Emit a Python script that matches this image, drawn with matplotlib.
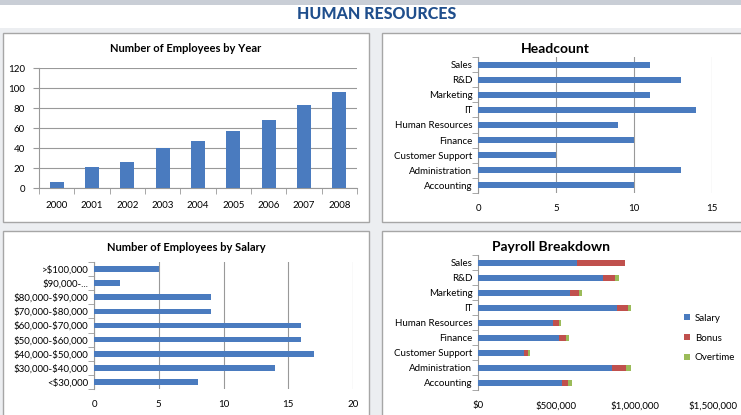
import matplotlib
matplotlib.use('Agg')
import matplotlib.pyplot as plt
from matplotlib.patches import Rectangle
from matplotlib.ticker import FuncFormatter, FixedLocator
import numpy as np

plt.rcParams['font.family'] = ['Lato', 'DejaVu Sans']
plt.rcParams['text.parse_math'] = False

# data
years = ['2000', '2001', '2002', '2003', '2004', '2005', '2006', '2007', '2008']
emp_by_year = [6, 21, 26, 40, 47, 57, 68, 83, 96]

depts = ['Accounting', 'Administration', 'Customer Support', 'Finance',
         'Human Resources', 'IT', 'Marketing', 'R&D', 'Sales']
headcount = [10, 13, 5, 10, 9, 14, 11, 13, 11]

salary_bands = ['<$30,000', '$30,000-$40,000', '$40,000-$50,000', '$50,000-$60,000',
                '$60,000-$70,000', '$70,000-$80,000', '$80,000-$90,000', '$90,000-...',
                '>$100,000']
emp_by_salary = [8, 14, 17, 16, 16, 9, 9, 2, 5]

pay_salary = [536000, 855000, 296000, 517000, 477000, 887000, 589000, 796000, 632000]
pay_bonus = [36000, 88000, 25000, 43000, 38000, 70000, 58000, 78000, 308000]
pay_overtime = [30000, 36000, 11000, 21000, 17000, 17000, 17000, 28000, 0]

BLUE = '#4a7bbf'
RED = '#c0504d'
GREEN = '#9bbb59'
GRID = '#999999'
W, H = 741, 415


def box(x0, y0, x1, y1):
    return [x0 / W, 1 - y1 / H, (x1 - x0) / W, (y1 - y0) / H]


fig = plt.figure(figsize=(W / 100, H / 100), dpi=100)
fig.patch.set_facecolor('#eceef1')

# top strip and panels (behind the axes)
fig.patches.append(Rectangle((0, 1 - 5 / H), 1, 5 / H, transform=fig.transFigure,
                             facecolor='#c9ced6', edgecolor='none', zorder=-3))
fig.patches.append(Rectangle((0, 1 - 28 / H), 1, 23 / H, transform=fig.transFigure,
                             facecolor='white', edgecolor='none', zorder=-3))
for (x0, y0, x1, y1) in [(3, 33, 369, 222), (382, 33, 745, 222),
                         (3, 231, 369, 420), (382, 231, 745, 420)]:
    fig.patches.append(Rectangle((x0 / W, 1 - y1 / H), (x1 - x0) / W, (y1 - y0) / H,
                                 transform=fig.transFigure, facecolor='white',
                                 edgecolor='#a6a6a6', linewidth=1, zorder=-2))

fig.text(377 / W, 1 - 14 / H, 'HUMAN RESOURCES', ha='center', va='center',
         fontsize=11.5, fontweight='black', color='#1f4e8c')


def style_barh(ax, labels, xmax, step):
    ax.set_facecolor('none')
    ax.set_xlim(0, xmax)
    ax.set_ylim(-0.5, len(labels) - 0.5)
    ax.set_xticks(np.arange(0, xmax + step / 2, step))
    ax.set_yticks(range(len(labels)))
    ax.set_yticklabels(labels)
    ax.yaxis.set_minor_locator(FixedLocator(np.arange(-0.5, len(labels), 1)))
    ax.tick_params(axis='y', which='major', length=0, labelsize=7, pad=4)
    ax.tick_params(axis='y', which='minor', length=4, color=GRID)
    ax.tick_params(axis='x', length=0, labelsize=7, pad=8)
    ax.grid(axis='x', color=GRID, linewidth=0.8)
    ax.set_axisbelow(True)
    for s in ['top', 'right', 'bottom']:
        ax.spines[s].set_visible(False)
    ax.spines['left'].set_color(GRID)


# Number of employees by year
ax1 = fig.add_axes(box(39, 68, 357, 188))
ax1.set_facecolor('none')
x = np.arange(len(years))
ax1.bar(x, emp_by_year, width=0.4, color=BLUE, zorder=3)
ax1.set_xlim(-0.5, len(years) - 0.5)
ax1.set_ylim(0, 120)
ax1.set_yticks(range(0, 121, 20))
ax1.set_xticks(x)
ax1.set_xticklabels(years)
ax1.xaxis.set_minor_locator(FixedLocator(np.arange(-0.5, len(years), 1)))
ax1.tick_params(axis='x', which='major', length=0, labelsize=7, pad=9)
ax1.tick_params(axis='x', which='minor', length=4, color=GRID)
ax1.tick_params(axis='y', length=4, color=GRID, labelsize=7, pad=6)
ax1.grid(axis='y', color=GRID, linewidth=0.8)
ax1.set_axisbelow(True)
for s in ['top', 'right']:
    ax1.spines[s].set_visible(False)
ax1.spines['left'].set_color(GRID)
ax1.spines['bottom'].set_color(GRID)
fig.text(186 / W, 1 - 48 / H, 'Number of Employees by Year', ha='center', va='center',
         fontsize=8, fontweight='bold')

# Headcount
ax2 = fig.add_axes(box(478, 57, 712, 193))
y = np.arange(len(depts))
ax2.barh(y, headcount, height=0.4, color=BLUE, zorder=3)
style_barh(ax2, depts, 15, 5)
fig.text(555 / W, 1 - 49 / H, 'Headcount', ha='center', va='center',
         fontsize=10, fontweight='bold')

# Number of employees by salary
ax3 = fig.add_axes(box(94, 262, 353, 389))
ax3.barh(np.arange(len(salary_bands)), emp_by_salary, height=0.4, color=BLUE, zorder=3)
style_barh(ax3, salary_bands, 20, 5)
fig.text(186 / W, 1 - 247 / H, 'Number of Employees by Salary', ha='center', va='center',
         fontsize=8, fontweight='bold')

# Payroll breakdown
ax4 = fig.add_axes(box(478, 255, 713, 390))
left2 = np.array(pay_salary) + np.array(pay_bonus)
ax4.barh(y, pay_salary, height=0.4, color=BLUE, zorder=3, label='Salary')
ax4.barh(y, pay_bonus, left=pay_salary, height=0.4, color=RED, zorder=3, label='Bonus')
ax4.barh(y, pay_overtime, left=left2, height=0.4, color=GREEN, zorder=3, label='Overtime')
style_barh(ax4, depts, 1500000, 500000)
ax4.grid(False)
ax4.xaxis.set_major_formatter(FuncFormatter(lambda v, p: '${:,.0f}'.format(v)))
ax4.legend(loc='center left', bbox_to_anchor=(684 / W, 1 - 338 / H),
           bbox_transform=fig.transFigure, frameon=False, fontsize=7,
           handlelength=0.6, handleheight=0.6, handletextpad=0.5, labelspacing=1.1,
           borderaxespad=0, borderpad=0)
fig.text(551 / W, 1 - 247 / H, 'Payroll Breakdown', ha='center', va='center',
         fontsize=10, fontweight='bold')

fig.savefig('out.png', dpi=100, facecolor=fig.get_facecolor())
